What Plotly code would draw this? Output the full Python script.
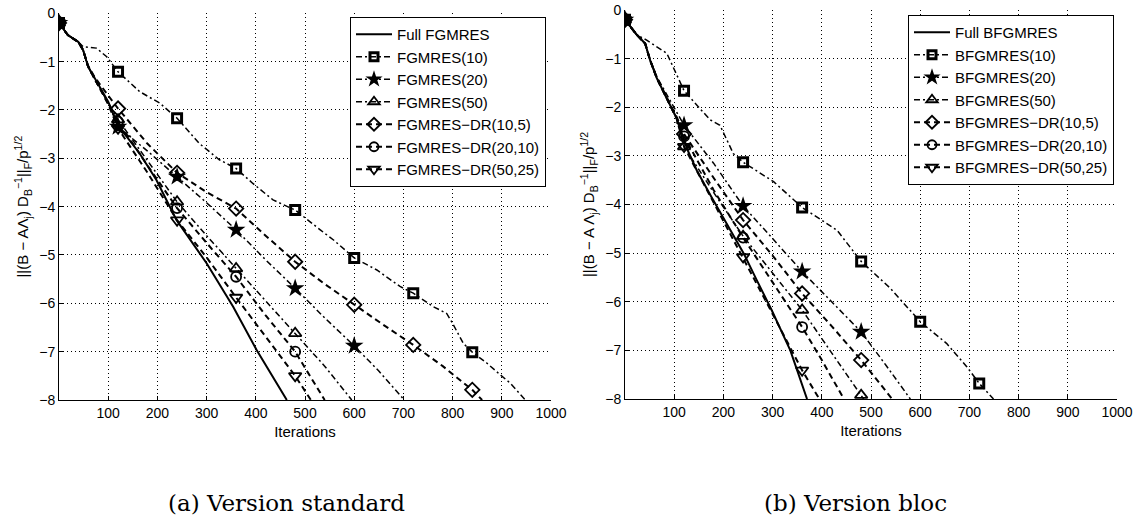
import plotly.graph_objects as go

# ---------------- (a) Version standard ----------------
std_names = ["Full FGMRES", "FGMRES(10)", "FGMRES(20)", "FGMRES(50)",
             "FGMRES\u2212DR(10,5)", "FGMRES\u2212DR(20,10)", "FGMRES\u2212DR(50,25)"]

std_full_x = [0, 18, 39, 49, 59, 73, 100, 120, 164, 198, 239, 300, 354, 402, 463]
std_full_y = [-0.2, -0.45, -0.59, -0.76, -1.1, -1.35, -1.83, -2.32, -2.9, -3.45, -4.28, -5.17, -6.07, -6.97, -8.0]

std_r10_x = [0, 18, 39, 49, 76, 97, 120, 164, 205, 240, 285, 326, 360, 394, 435, 480, 531, 558,
             600, 646, 693, 720, 761, 788, 798, 822, 840, 870, 897, 917, 948]
std_r10_y = [-0.2, -0.45, -0.59, -0.69, -0.72, -0.9, -1.21, -1.62, -1.86, -2.17, -2.69, -3.03, -3.21,
             -3.52, -3.86, -4.07, -4.48, -4.69, -5.06, -5.31, -5.65, -5.79, -6.07, -6.21, -6.38,
             -6.83, -7.01, -7.24, -7.48, -7.65, -8.0]

std_r20_x = [0, 18, 39, 49, 59, 73, 100, 120, 180, 240, 300, 360, 420, 480, 540, 600, 650, 702]
std_r20_y = [-0.2, -0.45, -0.59, -0.76, -1.1, -1.38, -1.85, -2.35, -2.85, -3.38, -3.92, -4.48,
             -5.1, -5.69, -6.3, -6.88, -7.4, -8.0]

std_r50_x = [0, 18, 39, 49, 59, 73, 100, 120, 180, 240, 300, 360, 420, 480, 540, 595]
std_r50_y = [-0.2, -0.45, -0.59, -0.76, -1.1, -1.36, -1.85, -2.2, -3.05, -3.9, -4.6, -5.28,
             -5.95, -6.62, -7.3, -8.0]

std_dr105_x = [0, 18, 39, 49, 59, 73, 100, 120, 180, 240, 300, 360, 420, 480, 540, 600, 660,
               720, 780, 840, 860]
std_dr105_y = [-0.2, -0.45, -0.59, -0.76, -1.08, -1.33, -1.7, -1.97, -2.7, -3.3, -3.7, -4.04,
               -4.6, -5.14, -5.6, -6.03, -6.45, -6.86, -7.3, -7.79, -8.0]

std_dr2010_x = [0, 18, 39, 49, 59, 73, 100, 120, 180, 240, 300, 360, 420, 480, 540]
std_dr2010_y = [-0.2, -0.45, -0.59, -0.76, -1.1, -1.36, -1.87, -2.24, -3.15, -4.03, -4.75,
                -5.45, -6.25, -7.0, -8.0]

std_dr5025_x = [0, 18, 39, 49, 59, 73, 100, 120, 180, 240, 300, 360, 420, 480, 512]
std_dr5025_y = [-0.2, -0.45, -0.59, -0.76, -1.1, -1.36, -1.88, -2.38, -3.3, -4.28, -5.05,
                -5.88, -6.7, -7.5, -8.0]

# ---------------- (b) Version bloc ----------------
blk_names = ["Full BFGMRES", "BFGMRES(10)", "BFGMRES(20)", "BFGMRES(50)",
             "BFGMRES\u2212DR(10,5)", "BFGMRES\u2212DR(20,10)", "BFGMRES\u2212DR(50,25)"]

blk_full_x = [0, 24, 41, 51, 65, 85, 105, 126, 146, 176, 241, 268, 298, 336, 370]
blk_full_y = [-0.2, -0.51, -0.69, -1.03, -1.41, -1.82, -2.23, -2.85, -3.3, -3.85, -5.0, -5.56,
              -6.17, -7.0, -8.0]

blk_r10_x = [0, 24, 44, 85, 120, 173, 193, 220, 240, 302, 360, 431, 480, 539, 600, 654, 695, 720, 749]
blk_r10_y = [-0.2, -0.51, -0.62, -0.89, -1.66, -2.26, -2.37, -2.95, -3.13, -3.53, -4.06, -4.53,
             -5.17, -5.72, -6.41, -6.86, -7.34, -7.68, -8.0]

blk_r20_x = [0, 24, 41, 51, 65, 85, 105, 120, 180, 240, 300, 360, 420, 480, 530, 580]
blk_r20_y = [-0.2, -0.51, -0.69, -1.03, -1.38, -1.75, -2.1, -2.37, -3.15, -4.03, -4.7, -5.38,
             -6.0, -6.62, -7.3, -8.0]

blk_r50_x = [0, 24, 41, 51, 65, 85, 105, 120, 180, 240, 300, 360, 420, 480, 485]
blk_r50_y = [-0.2, -0.51, -0.69, -1.03, -1.41, -1.82, -2.23, -2.81, -3.75, -4.65, -5.4, -6.17,
             -7.05, -7.92, -8.0]

blk_dr105_x = [0, 24, 41, 51, 65, 85, 105, 120, 180, 240, 300, 360, 420, 480, 543]
blk_dr105_y = [-0.2, -0.51, -0.69, -1.03, -1.4, -1.8, -2.2, -2.55, -3.45, -4.32, -5.05, -5.83,
               -6.5, -7.2, -8.0]

blk_dr2010_x = [0, 24, 41, 51, 65, 85, 105, 120, 180, 240, 300, 360, 400, 445]
blk_dr2010_y = [-0.2, -0.51, -0.69, -1.03, -1.41, -1.82, -2.23, -2.6, -3.7, -4.68, -5.6, -6.52,
                -7.2, -8.0]

blk_dr5025_x = [0, 24, 41, 51, 65, 85, 105, 120, 180, 240, 300, 360, 395]
blk_dr5025_y = [-0.2, -0.51, -0.69, -1.03, -1.41, -1.82, -2.23, -2.81, -3.95, -5.08, -6.25,
                -7.41, -8.0]

# markers sit every 120 iterations
MARK_STEP = 120

x_ticks = [100, 200, 300, 400, 500, 600, 700, 800, 900, 1000]
y_ticks = [0, -1, -2, -3, -4, -5, -6, -7, -8]

# line / marker style per curve (same order for both panels)
DASH_DOT = "6px,3px,2px,3px"
DASHED = "6px,4px"
styles = [
    dict(dash="solid", width=2.0, symbol=None, msize=0, mline=0),
    dict(dash=DASH_DOT, width=1.5, symbol="square-open", msize=9, mline=3),
    dict(dash=DASH_DOT, width=1.5, symbol="star", msize=14, mline=0),
    dict(dash=DASH_DOT, width=1.5, symbol="triangle-up-open", msize=11, mline=1.8),
    dict(dash=DASHED, width=2.0, symbol="diamond-open", msize=11, mline=1.8),
    dict(dash=DASHED, width=2.0, symbol="circle-open", msize=10, mline=1.8),
    dict(dash=DASHED, width=2.0, symbol="triangle-down-open", msize=11, mline=1.8),
]

std_series = [(std_full_x, std_full_y), (std_r10_x, std_r10_y), (std_r20_x, std_r20_y),
              (std_r50_x, std_r50_y), (std_dr105_x, std_dr105_y),
              (std_dr2010_x, std_dr2010_y), (std_dr5025_x, std_dr5025_y)]
blk_series = [(blk_full_x, blk_full_y), (blk_r10_x, blk_r10_y), (blk_r20_x, blk_r20_y),
              (blk_r50_x, blk_r50_y), (blk_dr105_x, blk_dr105_y),
              (blk_dr2010_x, blk_dr2010_y), (blk_dr5025_x, blk_dr5025_y)]

fig = go.Figure()


def add_panel(series, names, xa, ya, legend):
    # lines first, then markers, then legend samples
    for (xs, ys), st in zip(series, styles):
        fig.add_trace(go.Scatter(x=xs, y=ys, mode="lines", xaxis=xa, yaxis=ya,
                                 line=dict(color="black", width=st["width"], dash=st["dash"]),
                                 showlegend=False, hoverinfo="skip"))
    for (xs, ys), st in zip(series, styles):
        if st["symbol"] is None:
            continue
        mx = [x for x in xs if x % MARK_STEP == 0]
        my = [y for x, y in zip(xs, ys) if x % MARK_STEP == 0]
        fig.add_trace(go.Scatter(x=mx, y=my, mode="markers", xaxis=xa, yaxis=ya,
                                 marker=dict(symbol=st["symbol"], size=st["msize"], color="black",
                                             line=dict(color="black", width=st["mline"])),
                                 showlegend=False, hoverinfo="skip"))
    for name, st in zip(names, styles):
        mode = "lines" if st["symbol"] is None else "lines+markers"
        mk = dict(symbol=st["symbol"] or "circle", size=max(st["msize"] - 1, 1), color="black",
                  line=dict(color="black", width=st["mline"]))
        fig.add_trace(go.Scatter(x=[None], y=[None], mode=mode, name=name, xaxis=xa, yaxis=ya,
                                 line=dict(color="black", width=st["width"], dash=st["dash"]),
                                 marker=mk, legend=legend))


add_panel(std_series, std_names, "x", "y", "legend")
add_panel(blk_series, blk_names, "x2", "y2", "legend2")

W, H = 1143, 524
FONT = "Liberation Sans, Arial, sans-serif"


def xax(x0, x1):
    return dict(domain=[x0 / W, x1 / W], range=[0, 1000], tickvals=x_ticks,
                showgrid=True, gridcolor="black", griddash="1px,3px", gridwidth=1,
                showline=True, linecolor="black", linewidth=1, mirror=False,
                ticks="inside", ticklen=4, tickcolor="black", zeroline=False,
                automargin=False,
                tickfont=dict(family=FONT, size=14, color="black"),
                title=dict(text="Iterations", font=dict(family=FONT, size=15, color="black"),
                           standoff=6))


def yax(y_top, y_bot, anchor, text):
    return dict(domain=[(H - y_bot) / H, (H - y_top) / H], range=[-8, 0], tickvals=y_ticks,
                anchor=anchor,
                showgrid=True, gridcolor="black", griddash="1px,3px", gridwidth=1,
                showline=True, linecolor="black", linewidth=1, mirror=False,
                ticks="inside", ticklen=4, tickcolor="black", zeroline=False,
                automargin=False,
                tickfont=dict(family=FONT, size=14, color="black"),
                title=dict(text=text, font=dict(family=FONT, size=15, color="black"),
                           standoff=6))


ytitle_a = "||(B \u2212 A\u039b<sub>j</sub>) D<sub>B</sub><sup>\u22121</sup>||<sub>F</sub>/p<sup>1/2</sup>"
ytitle_b = "||(B \u2212 A \u039b<sub>j</sub>) D<sub>B</sub><sup>\u22121</sup>||<sub>F</sub>/p<sup>1/2</sup>"

legend_style = dict(bgcolor="white", bordercolor="black", borderwidth=1,
                    font=dict(family=FONT, size=15, color="black"),
                    xanchor="right", yanchor="top", tracegroupgap=0, itemwidth=36)

fig.update_layout(
    width=W, height=H, margin=dict(l=0, r=0, t=0, b=0, autoexpand=False),
    paper_bgcolor="white", plot_bgcolor="white",
    xaxis=dict(anchor="y", **xax(59, 551)),
    yaxis=yax(13.3, 400, "x", ytitle_a),
    xaxis2=dict(anchor="y2", **xax(625, 1117)),
    yaxis2=yax(10, 399, "x2", ytitle_b),
    legend=dict(x=546 / W, y=(H - 17) / H, **legend_style),
    legend2=dict(x=1114 / W, y=(H - 15) / H, **legend_style),
    annotations=[
        dict(text="(a) Version standard", x=287 / W, y=(H - 503) / H, xref="paper", yref="paper",
             showarrow=False, xanchor="center", yanchor="middle",
             font=dict(family="DejaVu Serif, serif", size=23, color="black")),
        dict(text="(b) Version bloc", x=855 / W, y=(H - 503) / H, xref="paper", yref="paper",
             showarrow=False, xanchor="center", yanchor="middle",
             font=dict(family="DejaVu Serif, serif", size=23, color="black")),
    ],
)

fig.write_html("out.html")
